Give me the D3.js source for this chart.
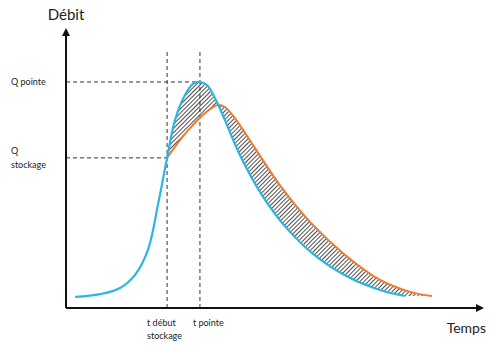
<!DOCTYPE html>
<html lang="fr">
<head>
  <meta charset="UTF-8">
  <title>Débit / Temps</title>
  <style>
    html, body { margin: 0; background: #ffffff; }
    svg text { font-family: Lato, "Open Sans", sans-serif; fill: #222; }
  </style>
</head>
<body>
  <svg id="chart" width="490" height="345"></svg>
  <script src="https://cdnjs.cloudflare.com/ajax/libs/d3/7.8.5/d3.min.js"></script>
  <script>
    // hydrogramme entrant (bleu) : [temps, débit]
    const inflow = [
      [2.2, 4.0], [8.2, 5.0], [13.0, 7.2], [16.6, 11.9], [19.7, 20.9], [22.1, 37.1],
      [24.3, 54.0], [26.2, 67.6], [28.6, 76.6], [30.5, 80.6], [32.2, 81.3], [33.9, 80.2],
      [35.8, 75.5], [38.2, 67.6], [41.8, 55.0], [47.1, 40.6], [53.4, 28.1], [60.6, 18.0],
      [68.3, 10.8], [75.5, 6.5], [81.5, 4.3]
    ];
    // hydrogramme sortant (orange), écrêté à partir du début du stockage
    const outflow = [
      [24.3, 54.0], [26.9, 59.4], [29.8, 64.7], [33.4, 70.1], [36.5, 73.0], [38.2, 72.3],
      [40.6, 68.3], [45.4, 57.6], [51.4, 44.2], [58.7, 30.9], [67.1, 19.1], [75.5, 10.1],
      [82.7, 5.8], [88.0, 4.3]
    ];
    const markTimes = [24.3, 32.2];
    const markTimeLabels = [['t début', 'stockage'], ['t pointe']];
    const markFlows = [81.3, 54.0];
    const markFlowLabels = [['Q pointe'], ['Q', 'stockage']];

    const svg = d3.select('#chart');
    const x = d3.scaleLinear().domain([0, 100]).range([66, 482]);
    const y = d3.scaleLinear().domain([0, 100]).range([308, 30]);

    const defs = svg.append('defs');
    defs.append('pattern')
      .attr('id', 'hatch')
      .attr('patternUnits', 'userSpaceOnUse')
      .attr('width', 3).attr('height', 3)
      .attr('patternTransform', 'rotate(45)')
      .append('line')
      .attr('x1', 0).attr('y1', 0).attr('x2', 0).attr('y2', 3)
      .attr('stroke', '#222').attr('stroke-width', 1.7);
    defs.append('marker')
      .attr('id', 'arrow')
      .attr('viewBox', '0 0 10 10')
      .attr('refX', 5).attr('refY', 5)
      .attr('markerWidth', 4).attr('markerHeight', 4)
      .attr('orient', 'auto')
      .append('path')
      .attr('d', 'M0,0 L10,5 L0,10 z')
      .attr('fill', '#111');

    const line = d3.line().x(d => x(d[0])).y(d => y(d[1])).curve(d3.curveCatmullRom);

    // zone hachurée entre les deux courbes
    const start = inflow.findIndex(d => d[0] >= markTimes[0]);
    const between = inflow.slice(start).concat(outflow.slice().reverse());
    svg.append('path')
      .attr('d', d3.line().x(d => x(d[0])).y(d => y(d[1])).curve(d3.curveLinearClosed)(between))
      .attr('fill', 'url(#hatch)')
      .attr('opacity', 0.95);

    // repères en pointillés
    const dash = svg.append('g')
      .attr('stroke', '#333').attr('stroke-width', 1).attr('stroke-dasharray', '4,3');
    markFlows.forEach((q, i) => {
      dash.append('line')
        .attr('x1', x(0)).attr('x2', x(markTimes[i === 0 ? 1 : 0]))
        .attr('y1', y(q)).attr('y2', y(q));
    });
    markTimes.forEach(t => {
      dash.append('line')
        .attr('x1', x(t)).attr('x2', x(t))
        .attr('y1', y(0)).attr('y2', y(93));
    });

    svg.append('path').attr('d', line(outflow))
      .attr('fill', 'none').attr('stroke', '#ea7d32').attr('stroke-width', 2);
    svg.append('path').attr('d', line(inflow))
      .attr('fill', 'none').attr('stroke', '#2bb4e4').attr('stroke-width', 2.2);

    // axes
    svg.append('line')
      .attr('x1', x(0)).attr('y1', y(0)).attr('x2', x(0)).attr('y2', 32)
      .attr('stroke', '#111').attr('stroke-width', 2).attr('marker-end', 'url(#arrow)');
    svg.append('line')
      .attr('x1', x(0)).attr('y1', y(0)).attr('x2', 480).attr('y2', y(0))
      .attr('stroke', '#111').attr('stroke-width', 2).attr('marker-end', 'url(#arrow)');

    svg.append('text').attr('x', x(0)).attr('y', 20)
      .attr('text-anchor', 'middle').attr('font-size', 15).text('Débit');
    svg.append('text').attr('x', 486).attr('y', 333)
      .attr('text-anchor', 'end').attr('font-size', 14).text('Temps');

    markFlows.forEach((q, i) => {
      const lines = markFlowLabels[i];
      const t = svg.append('text').attr('font-size', 9);
      lines.forEach((s, j) => {
        t.append('tspan').attr('x', 11)
          .attr('y', y(q) + 3 + (j - (lines.length - 1) / 2) * 14 * (lines.length > 1 ? 1 : 0))
          .text(s);
      });
    });
    markTimes.forEach((tm, i) => {
      const t = svg.append('text').attr('font-size', 9);
      markTimeLabels[i].forEach((s, j) => {
        t.append('tspan').attr('x', x(tm) - (i === 0 ? 20 : 7)).attr('y', 326 + j * 13).text(s);
      });
    });
  </script>
</body>
</html>
